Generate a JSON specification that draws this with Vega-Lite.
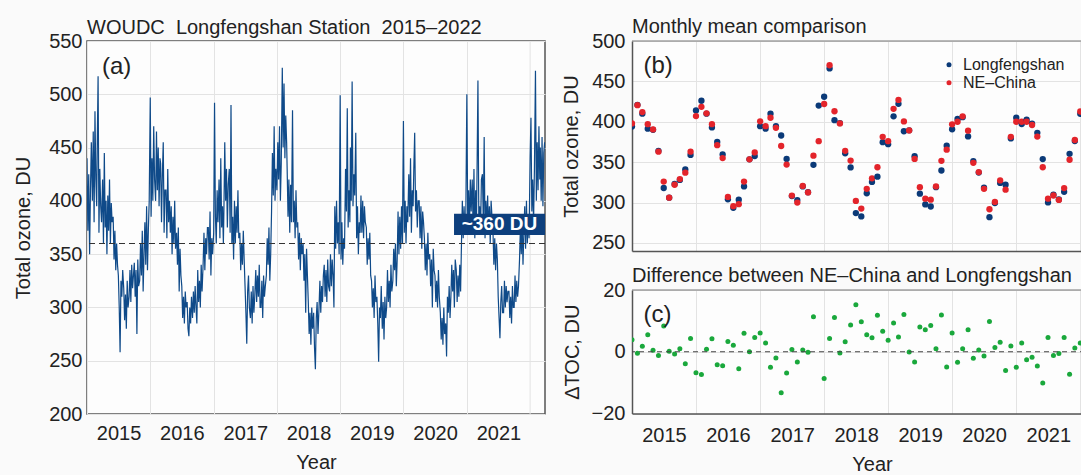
{
"$schema": "https://vega.github.io/schema/vega-lite/v6.json",
"background": "#fafafa",
"padding": {"left": 12, "top": 17, "right": 0, "bottom": 0},
"config": {
 "font": "Liberation Sans",
 "view": {"stroke": null},
 "axis": {"labelFont": "Liberation Sans", "labelFontSize": 20, "labelColor": "#222", "titleFont": "Liberation Sans", "titleFontSize": 20, "titleFontWeight": "normal", "titleColor": "#222", "gridColor": "#e3e3e3", "gridWidth": 1, "domainColor": "#555", "domainWidth": 1.5, "ticks": false, "tickSize": 0},
 "title": {"font": "Liberation Sans", "fontSize": 20, "fontWeight": "normal", "color": "#222", "anchor": "start", "frame": "group", "baseline": "alphabetic"}
},
"datasets": {
"daily": [
{"t":"2015-01-01","v":440},{"t":"2015-01-06","v":372},{"t":"2015-01-11","v":425},{"t":"2015-01-16","v":350},{"t":"2015-01-21","v":410},{"t":"2015-01-26","v":455},
{"t":"2015-02-01","v":400},{"t":"2015-02-06","v":465},{"t":"2015-02-11","v":380},{"t":"2015-02-16","v":484},{"t":"2015-02-21","v":420},{"t":"2015-02-26","v":395},
{"t":"2015-03-01","v":450},{"t":"2015-03-06","v":517},{"t":"2015-03-11","v":370},{"t":"2015-03-16","v":430},{"t":"2015-03-21","v":395},{"t":"2015-03-26","v":380},
{"t":"2015-04-01","v":420},{"t":"2015-04-06","v":360},{"t":"2015-04-11","v":445},{"t":"2015-04-16","v":375},{"t":"2015-04-21","v":400},{"t":"2015-04-26","v":350},
{"t":"2015-05-01","v":405},{"t":"2015-05-06","v":372},{"t":"2015-05-11","v":420},{"t":"2015-05-16","v":360},{"t":"2015-05-21","v":398},{"t":"2015-05-26","v":380},
{"t":"2015-06-01","v":385},{"t":"2015-06-06","v":345},{"t":"2015-06-11","v":372},{"t":"2015-06-16","v":335},{"t":"2015-06-21","v":360},{"t":"2015-06-26","v":340},
{"t":"2015-07-01","v":330},{"t":"2015-07-06","v":300},{"t":"2015-07-11","v":258},{"t":"2015-07-16","v":325},{"t":"2015-07-21","v":310},{"t":"2015-07-26","v":335},
{"t":"2015-08-01","v":318},{"t":"2015-08-06","v":288},{"t":"2015-08-11","v":312},{"t":"2015-08-16","v":280},{"t":"2015-08-21","v":325},{"t":"2015-08-26","v":300},
{"t":"2015-09-01","v":310},{"t":"2015-09-06","v":335},{"t":"2015-09-11","v":305},{"t":"2015-09-16","v":340},{"t":"2015-09-21","v":318},{"t":"2015-09-26","v":330},
{"t":"2015-10-01","v":342},{"t":"2015-10-06","v":310},{"t":"2015-10-11","v":335},{"t":"2015-10-16","v":275},{"t":"2015-10-21","v":345},{"t":"2015-10-26","v":320},
{"t":"2015-11-01","v":325},{"t":"2015-11-06","v":360},{"t":"2015-11-11","v":330},{"t":"2015-11-16","v":372},{"t":"2015-11-21","v":315},{"t":"2015-11-26","v":350},
{"t":"2015-12-01","v":380},{"t":"2015-12-06","v":340},{"t":"2015-12-11","v":395},{"t":"2015-12-16","v":335},{"t":"2015-12-21","v":372},{"t":"2015-12-26","v":400},
{"t":"2016-01-01","v":497},{"t":"2016-01-06","v":385},{"t":"2016-01-11","v":440},{"t":"2016-01-16","v":400},{"t":"2016-01-21","v":470},{"t":"2016-01-26","v":420},
{"t":"2016-02-01","v":400},{"t":"2016-02-06","v":465},{"t":"2016-02-11","v":410},{"t":"2016-02-16","v":450},{"t":"2016-02-21","v":395},{"t":"2016-02-26","v":440},
{"t":"2016-03-01","v":435},{"t":"2016-03-06","v":380},{"t":"2016-03-11","v":425},{"t":"2016-03-16","v":455},{"t":"2016-03-21","v":370},{"t":"2016-03-26","v":410},
{"t":"2016-04-01","v":410},{"t":"2016-04-06","v":365},{"t":"2016-04-11","v":430},{"t":"2016-04-16","v":380},{"t":"2016-04-21","v":400},{"t":"2016-04-26","v":370},
{"t":"2016-05-01","v":395},{"t":"2016-05-06","v":350},{"t":"2016-05-11","v":385},{"t":"2016-05-16","v":360},{"t":"2016-05-21","v":400},{"t":"2016-05-26","v":355},
{"t":"2016-06-01","v":370},{"t":"2016-06-06","v":340},{"t":"2016-06-11","v":375},{"t":"2016-06-16","v":315},{"t":"2016-06-21","v":355},{"t":"2016-06-26","v":330},
{"t":"2016-07-01","v":320},{"t":"2016-07-06","v":290},{"t":"2016-07-11","v":310},{"t":"2016-07-16","v":285},{"t":"2016-07-21","v":315},{"t":"2016-07-26","v":300},
{"t":"2016-08-01","v":305},{"t":"2016-08-06","v":280},{"t":"2016-08-11","v":273},{"t":"2016-08-16","v":300},{"t":"2016-08-21","v":285},{"t":"2016-08-26","v":310},
{"t":"2016-09-01","v":290},{"t":"2016-09-06","v":315},{"t":"2016-09-11","v":295},{"t":"2016-09-16","v":320},{"t":"2016-09-21","v":300},{"t":"2016-09-26","v":285},
{"t":"2016-10-01","v":335},{"t":"2016-10-06","v":305},{"t":"2016-10-11","v":325},{"t":"2016-10-16","v":300},{"t":"2016-10-21","v":340},{"t":"2016-10-26","v":315},
{"t":"2016-11-01","v":340},{"t":"2016-11-06","v":370},{"t":"2016-11-11","v":335},{"t":"2016-11-16","v":365},{"t":"2016-11-21","v":350},{"t":"2016-11-26","v":375},
{"t":"2016-12-01","v":375},{"t":"2016-12-06","v":345},{"t":"2016-12-11","v":390},{"t":"2016-12-16","v":330},{"t":"2016-12-21","v":365},{"t":"2016-12-26","v":350},
{"t":"2017-01-01","v":370},{"t":"2017-01-06","v":492},{"t":"2017-01-11","v":385},{"t":"2017-01-16","v":360},{"t":"2017-01-21","v":410},{"t":"2017-01-26","v":380},
{"t":"2017-02-01","v":420},{"t":"2017-02-06","v":365},{"t":"2017-02-11","v":440},{"t":"2017-02-16","v":375},{"t":"2017-02-21","v":395},{"t":"2017-02-26","v":360},
{"t":"2017-03-01","v":390},{"t":"2017-03-06","v":455},{"t":"2017-03-11","v":400},{"t":"2017-03-16","v":430},{"t":"2017-03-21","v":375},{"t":"2017-03-26","v":415},
{"t":"2017-04-01","v":430},{"t":"2017-04-06","v":370},{"t":"2017-04-11","v":490},{"t":"2017-04-16","v":360},{"t":"2017-04-21","v":385},{"t":"2017-04-26","v":345},
{"t":"2017-05-01","v":400},{"t":"2017-05-06","v":360},{"t":"2017-05-11","v":395},{"t":"2017-05-16","v":370},{"t":"2017-05-21","v":410},{"t":"2017-05-26","v":365},
{"t":"2017-06-01","v":370},{"t":"2017-06-06","v":335},{"t":"2017-06-11","v":360},{"t":"2017-06-16","v":340},{"t":"2017-06-21","v":372},{"t":"2017-06-26","v":345},
{"t":"2017-07-01","v":320},{"t":"2017-07-06","v":295},{"t":"2017-07-11","v":266},{"t":"2017-07-16","v":315},{"t":"2017-07-21","v":330},{"t":"2017-07-26","v":300},
{"t":"2017-08-01","v":290},{"t":"2017-08-06","v":315},{"t":"2017-08-11","v":285},{"t":"2017-08-16","v":320},{"t":"2017-08-21","v":295},{"t":"2017-08-26","v":310},
{"t":"2017-09-01","v":335},{"t":"2017-09-06","v":305},{"t":"2017-09-11","v":330},{"t":"2017-09-16","v":310},{"t":"2017-09-21","v":340},{"t":"2017-09-26","v":300},
{"t":"2017-10-01","v":300},{"t":"2017-10-06","v":325},{"t":"2017-10-11","v":290},{"t":"2017-10-16","v":330},{"t":"2017-10-21","v":310},{"t":"2017-10-26","v":320},
{"t":"2017-11-01","v":330},{"t":"2017-11-06","v":365},{"t":"2017-11-11","v":340},{"t":"2017-11-16","v":375},{"t":"2017-11-21","v":325},{"t":"2017-11-26","v":350},
{"t":"2017-12-01","v":390},{"t":"2017-12-06","v":445},{"t":"2017-12-11","v":405},{"t":"2017-12-16","v":470},{"t":"2017-12-21","v":400},{"t":"2017-12-26","v":430},
{"t":"2018-01-01","v":410},{"t":"2018-01-06","v":455},{"t":"2018-01-11","v":420},{"t":"2018-01-16","v":470},{"t":"2018-01-21","v":400},{"t":"2018-01-26","v":435},
{"t":"2018-02-01","v":525},{"t":"2018-02-06","v":450},{"t":"2018-02-11","v":510},{"t":"2018-02-16","v":440},{"t":"2018-02-21","v":480},{"t":"2018-02-26","v":455},
{"t":"2018-03-01","v":430},{"t":"2018-03-06","v":385},{"t":"2018-03-11","v":420},{"t":"2018-03-16","v":370},{"t":"2018-03-21","v":415},{"t":"2018-03-26","v":380},
{"t":"2018-04-01","v":485},{"t":"2018-04-06","v":380},{"t":"2018-04-11","v":400},{"t":"2018-04-16","v":365},{"t":"2018-04-21","v":410},{"t":"2018-04-26","v":375},
{"t":"2018-05-01","v":380},{"t":"2018-05-06","v":345},{"t":"2018-05-11","v":370},{"t":"2018-05-16","v":335},{"t":"2018-05-21","v":365},{"t":"2018-05-26","v":350},
{"t":"2018-06-01","v":360},{"t":"2018-06-06","v":325},{"t":"2018-06-11","v":350},{"t":"2018-06-16","v":295},{"t":"2018-06-21","v":355},{"t":"2018-06-26","v":330},
{"t":"2018-07-01","v":305},{"t":"2018-07-06","v":275},{"t":"2018-07-11","v":295},{"t":"2018-07-16","v":265},{"t":"2018-07-21","v":300},{"t":"2018-07-26","v":280},
{"t":"2018-08-01","v":295},{"t":"2018-08-06","v":262},{"t":"2018-08-11","v":242},{"t":"2018-08-16","v":290},{"t":"2018-08-21","v":305},{"t":"2018-08-26","v":275},
{"t":"2018-09-01","v":300},{"t":"2018-09-06","v":325},{"t":"2018-09-11","v":295},{"t":"2018-09-16","v":320},{"t":"2018-09-21","v":305},{"t":"2018-09-26","v":330},
{"t":"2018-10-01","v":340},{"t":"2018-10-06","v":310},{"t":"2018-10-11","v":335},{"t":"2018-10-16","v":305},{"t":"2018-10-21","v":345},{"t":"2018-10-26","v":320},
{"t":"2018-11-01","v":315},{"t":"2018-11-06","v":350},{"t":"2018-11-11","v":320},{"t":"2018-11-16","v":345},{"t":"2018-11-21","v":330},{"t":"2018-11-26","v":300},
{"t":"2018-12-01","v":395},{"t":"2018-12-06","v":355},{"t":"2018-12-11","v":400},{"t":"2018-12-16","v":360},{"t":"2018-12-21","v":380},{"t":"2018-12-26","v":350},
{"t":"2019-01-01","v":499},{"t":"2019-01-06","v":345},{"t":"2019-01-11","v":380},{"t":"2019-01-16","v":340},{"t":"2019-01-21","v":365},{"t":"2019-01-26","v":355},
{"t":"2019-02-01","v":430},{"t":"2019-02-06","v":390},{"t":"2019-02-11","v":487},{"t":"2019-02-16","v":375},{"t":"2019-02-21","v":410},{"t":"2019-02-26","v":380},
{"t":"2019-03-01","v":450},{"t":"2019-03-06","v":400},{"t":"2019-03-11","v":512},{"t":"2019-03-16","v":395},{"t":"2019-03-21","v":425},{"t":"2019-03-26","v":405},
{"t":"2019-04-01","v":464},{"t":"2019-04-06","v":365},{"t":"2019-04-11","v":395},{"t":"2019-04-16","v":350},{"t":"2019-04-21","v":380},{"t":"2019-04-26","v":370},
{"t":"2019-05-01","v":405},{"t":"2019-05-06","v":370},{"t":"2019-05-11","v":400},{"t":"2019-05-16","v":365},{"t":"2019-05-21","v":395},{"t":"2019-05-26","v":380},
{"t":"2019-06-01","v":375},{"t":"2019-06-06","v":340},{"t":"2019-06-11","v":365},{"t":"2019-06-16","v":345},{"t":"2019-06-21","v":370},{"t":"2019-06-26","v":330},
{"t":"2019-07-01","v":325},{"t":"2019-07-06","v":300},{"t":"2019-07-11","v":318},{"t":"2019-07-16","v":290},{"t":"2019-07-21","v":330},{"t":"2019-07-26","v":305},
{"t":"2019-08-01","v":310},{"t":"2019-08-06","v":285},{"t":"2019-08-11","v":249},{"t":"2019-08-16","v":300},{"t":"2019-08-21","v":290},{"t":"2019-08-26","v":320},
{"t":"2019-09-01","v":280},{"t":"2019-09-06","v":305},{"t":"2019-09-11","v":270},{"t":"2019-09-16","v":310},{"t":"2019-09-21","v":290},{"t":"2019-09-26","v":300},
{"t":"2019-10-01","v":335},{"t":"2019-10-06","v":305},{"t":"2019-10-11","v":325},{"t":"2019-10-16","v":300},{"t":"2019-10-21","v":340},{"t":"2019-10-26","v":315},
{"t":"2019-11-01","v":325},{"t":"2019-11-06","v":355},{"t":"2019-11-11","v":335},{"t":"2019-11-16","v":360},{"t":"2019-11-21","v":320},{"t":"2019-11-26","v":345},
{"t":"2019-12-01","v":390},{"t":"2019-12-06","v":350},{"t":"2019-12-11","v":385},{"t":"2019-12-16","v":355},{"t":"2019-12-21","v":395},{"t":"2019-12-26","v":360},
{"t":"2020-01-01","v":475},{"t":"2020-01-06","v":370},{"t":"2020-01-11","v":400},{"t":"2020-01-16","v":360},{"t":"2020-01-21","v":395},{"t":"2020-01-26","v":380},
{"t":"2020-02-01","v":425},{"t":"2020-02-06","v":385},{"t":"2020-02-11","v":440},{"t":"2020-02-16","v":370},{"t":"2020-02-21","v":410},{"t":"2020-02-26","v":395},
{"t":"2020-03-01","v":430},{"t":"2020-03-06","v":464},{"t":"2020-03-11","v":390},{"t":"2020-03-16","v":410},{"t":"2020-03-21","v":375},{"t":"2020-03-26","v":400},
{"t":"2020-04-01","v":400},{"t":"2020-04-06","v":365},{"t":"2020-04-11","v":395},{"t":"2020-04-16","v":355},{"t":"2020-04-21","v":390},{"t":"2020-04-26","v":380},
{"t":"2020-05-01","v":365},{"t":"2020-05-06","v":335},{"t":"2020-05-11","v":360},{"t":"2020-05-16","v":330},{"t":"2020-05-21","v":370},{"t":"2020-05-26","v":345},
{"t":"2020-06-01","v":350},{"t":"2020-06-06","v":320},{"t":"2020-06-11","v":345},{"t":"2020-06-16","v":300},{"t":"2020-06-21","v":355},{"t":"2020-06-26","v":335},
{"t":"2020-07-01","v":330},{"t":"2020-07-06","v":305},{"t":"2020-07-11","v":325},{"t":"2020-07-16","v":300},{"t":"2020-07-21","v":335},{"t":"2020-07-26","v":310},
{"t":"2020-08-01","v":295},{"t":"2020-08-06","v":270},{"t":"2020-08-11","v":290},{"t":"2020-08-16","v":265},{"t":"2020-08-21","v":300},{"t":"2020-08-26","v":275},
{"t":"2020-09-01","v":285},{"t":"2020-09-06","v":254},{"t":"2020-09-11","v":310},{"t":"2020-09-16","v":295},{"t":"2020-09-21","v":320},{"t":"2020-09-26","v":290},
{"t":"2020-10-01","v":310},{"t":"2020-10-06","v":340},{"t":"2020-10-11","v":315},{"t":"2020-10-16","v":335},{"t":"2020-10-21","v":300},{"t":"2020-10-26","v":345},
{"t":"2020-11-01","v":335},{"t":"2020-11-06","v":305},{"t":"2020-11-11","v":330},{"t":"2020-11-16","v":310},{"t":"2020-11-21","v":340},{"t":"2020-11-26","v":315},
{"t":"2020-12-01","v":360},{"t":"2020-12-06","v":400},{"t":"2020-12-11","v":365},{"t":"2020-12-16","v":395},{"t":"2020-12-21","v":370},{"t":"2020-12-26","v":385},
{"t":"2021-01-01","v":500},{"t":"2021-01-06","v":380},{"t":"2021-01-11","v":410},{"t":"2021-01-16","v":375},{"t":"2021-01-21","v":420},{"t":"2021-01-26","v":390},
{"t":"2021-02-01","v":420},{"t":"2021-02-06","v":375},{"t":"2021-02-11","v":430},{"t":"2021-02-16","v":365},{"t":"2021-02-21","v":410},{"t":"2021-02-26","v":385},
{"t":"2021-03-01","v":430},{"t":"2021-03-06","v":513},{"t":"2021-03-11","v":385},{"t":"2021-03-16","v":395},{"t":"2021-03-21","v":370},{"t":"2021-03-26","v":420},
{"t":"2021-04-01","v":425},{"t":"2021-04-06","v":380},{"t":"2021-04-11","v":460},{"t":"2021-04-16","v":365},{"t":"2021-04-21","v":400},{"t":"2021-04-26","v":375},
{"t":"2021-05-01","v":405},{"t":"2021-05-06","v":370},{"t":"2021-05-11","v":395},{"t":"2021-05-16","v":360},{"t":"2021-05-21","v":400},{"t":"2021-05-26","v":385},
{"t":"2021-06-01","v":370},{"t":"2021-06-06","v":340},{"t":"2021-06-11","v":365},{"t":"2021-06-16","v":335},{"t":"2021-06-21","v":360},{"t":"2021-06-26","v":345},
{"t":"2021-07-01","v":310},{"t":"2021-07-06","v":290},{"t":"2021-07-11","v":271},{"t":"2021-07-16","v":305},{"t":"2021-07-21","v":320},{"t":"2021-07-26","v":295},
{"t":"2021-08-01","v":295},{"t":"2021-08-06","v":325},{"t":"2021-08-11","v":300},{"t":"2021-08-16","v":320},{"t":"2021-08-21","v":305},{"t":"2021-08-26","v":315},
{"t":"2021-09-01","v":315},{"t":"2021-09-06","v":290},{"t":"2021-09-11","v":310},{"t":"2021-09-16","v":285},{"t":"2021-09-21","v":320},{"t":"2021-09-26","v":300},
{"t":"2021-10-01","v":300},{"t":"2021-10-06","v":330},{"t":"2021-10-11","v":305},{"t":"2021-10-16","v":325},{"t":"2021-10-21","v":310},{"t":"2021-10-26","v":320},
{"t":"2021-11-01","v":345},{"t":"2021-11-06","v":375},{"t":"2021-11-11","v":350},{"t":"2021-11-16","v":380},{"t":"2021-11-21","v":340},{"t":"2021-11-26","v":370},
{"t":"2021-12-01","v":395},{"t":"2021-12-06","v":355},{"t":"2021-12-11","v":400},{"t":"2021-12-16","v":360},{"t":"2021-12-21","v":385},{"t":"2021-12-26","v":365},
{"t":"2022-01-01","v":440},{"t":"2022-01-06","v":478},{"t":"2022-01-11","v":390},{"t":"2022-01-16","v":420},{"t":"2022-01-21","v":380},{"t":"2022-01-26","v":430},
{"t":"2022-02-01","v":522},{"t":"2022-02-06","v":400},{"t":"2022-02-11","v":455},{"t":"2022-02-16","v":410},{"t":"2022-02-21","v":470},{"t":"2022-02-26","v":420},
{"t":"2022-03-01","v":450},{"t":"2022-03-06","v":400},{"t":"2022-03-11","v":460},{"t":"2022-03-16","v":395},{"t":"2022-03-21","v":445},{"t":"2022-03-26","v":455}
],
"monthly": [
{"t":"2015-01-01","Longfengshan":394,"NE–China":398,"d":3.9},
{"t":"2015-02-01","Longfengshan":421,"NE–China":420.5,"d":-0.5},
{"t":"2015-03-01","Longfengshan":410,"NE–China":412,"d":1.8},
{"t":"2015-04-01","Longfengshan":391.5,"NE–China":397,"d":5.5},
{"t":"2015-05-01","Longfengshan":390,"NE–China":390.5,"d":0.5},
{"t":"2015-06-01","Longfengshan":364,"NE–China":363,"d":-1.2},
{"t":"2015-07-01","Longfengshan":318,"NE–China":326,"d":8.3},
{"t":"2015-08-01","Longfengshan":306,"NE–China":306,"d":0.2},
{"t":"2015-09-01","Longfengshan":323,"NE–China":322,"d":-0.7},
{"t":"2015-10-01","Longfengshan":328,"NE–China":329,"d":1.0},
{"t":"2015-11-01","Longfengshan":341,"NE–China":337,"d":-3.9},
{"t":"2015-12-01","Longfengshan":359,"NE–China":363,"d":4.3},
{"t":"2016-01-01","Longfengshan":414,"NE–China":407,"d":-6.8},
{"t":"2016-02-01","Longfengshan":426,"NE–China":418.5,"d":-7.4},
{"t":"2016-03-01","Longfengshan":410,"NE–China":410.5,"d":0.8},
{"t":"2016-04-01","Longfengshan":393,"NE–China":397,"d":4.2},
{"t":"2016-05-01","Longfengshan":375,"NE–China":371,"d":-4.2},
{"t":"2016-06-01","Longfengshan":359.5,"NE–China":355,"d":-4.5},
{"t":"2016-07-01","Longfengshan":304,"NE–China":307,"d":3.3},
{"t":"2016-08-01","Longfengshan":293.5,"NE–China":295.5,"d":2.1},
{"t":"2016-09-01","Longfengshan":303.5,"NE–China":298,"d":-5.5},
{"t":"2016-10-01","Longfengshan":320,"NE–China":326,"d":6.0},
{"t":"2016-11-01","Longfengshan":353.5,"NE–China":353.5,"d":0},
{"t":"2016-12-01","Longfengshan":357.5,"NE–China":362,"d":4.6},
{"t":"2017-01-01","Longfengshan":394.5,"NE–China":400.5,"d":6.1},
{"t":"2017-02-01","Longfengshan":391.5,"NE–China":394.5,"d":2.8},
{"t":"2017-03-01","Longfengshan":410,"NE–China":405,"d":-5.0},
{"t":"2017-04-01","Longfengshan":394.5,"NE–China":392.5,"d":-2.0},
{"t":"2017-05-01","Longfengshan":383,"NE–China":370,"d":-13.3},
{"t":"2017-06-01","Longfengshan":354,"NE–China":347,"d":-6.9},
{"t":"2017-07-01","Longfengshan":308,"NE–China":308.6,"d":0.7},
{"t":"2017-08-01","Longfengshan":303,"NE–China":300,"d":-3.3},
{"t":"2017-09-01","Longfengshan":320,"NE–China":320.6,"d":0.6},
{"t":"2017-10-01","Longfengshan":312.7,"NE–China":312.5,"d":-0.2},
{"t":"2017-11-01","Longfengshan":346.7,"NE–China":358,"d":11.3},
{"t":"2017-12-01","Longfengshan":420,"NE–China":376,"d":null},
{"t":"2018-01-01","Longfengshan":431,"NE–China":422,"d":-8.7},
{"t":"2018-02-01","Longfengshan":466,"NE–China":470,"d":4.3},
{"t":"2018-03-01","Longfengshan":402,"NE–China":413,"d":11.1},
{"t":"2018-04-01","Longfengshan":398.4,"NE–China":398,"d":-0.4},
{"t":"2018-05-01","Longfengshan":361,"NE–China":364,"d":3.2},
{"t":"2018-06-01","Longfengshan":343.5,"NE–China":352,"d":8.7},
{"t":"2018-07-01","Longfengshan":287,"NE–China":302,"d":15.2},
{"t":"2018-08-01","Longfengshan":282.8,"NE–China":292.5,"d":9.7},
{"t":"2018-09-01","Longfengshan":311.5,"NE–China":317,"d":5.5},
{"t":"2018-10-01","Longfengshan":325.5,"NE–China":330,"d":4.5},
{"t":"2018-11-01","Longfengshan":332,"NE–China":343.7,"d":11.8},
{"t":"2018-12-01","Longfengshan":374.7,"NE–China":381.3,"d":6.6},
{"t":"2019-01-01","Longfengshan":372.3,"NE–China":376,"d":3.7},
{"t":"2019-02-01","Longfengshan":406.7,"NE–China":416,"d":9.3},
{"t":"2019-03-01","Longfengshan":422.2,"NE–China":427,"d":4.8},
{"t":"2019-04-01","Longfengshan":388.3,"NE–China":400.4,"d":12.1},
{"t":"2019-05-01","Longfengshan":389.4,"NE–China":389.3,"d":-0.1},
{"t":"2019-06-01","Longfengshan":357.3,"NE–China":354,"d":-3.3},
{"t":"2019-07-01","Longfengshan":311,"NE–China":319,"d":8.0},
{"t":"2019-08-01","Longfengshan":297.7,"NE–China":304.8,"d":7.1},
{"t":"2019-09-01","Longfengshan":295.1,"NE–China":303.6,"d":8.5},
{"t":"2019-10-01","Longfengshan":319,"NE–China":320,"d":1.0},
{"t":"2019-11-01","Longfengshan":339.7,"NE–China":351.6,"d":11.9},
{"t":"2019-12-01","Longfengshan":370.4,"NE–China":365.5,"d":-4.9},
{"t":"2020-01-01","Longfengshan":390.7,"NE–China":396.8,"d":6.1},
{"t":"2020-02-01","Longfengshan":403.4,"NE–China":400,"d":-3.4},
{"t":"2020-03-01","Longfengshan":405.7,"NE–China":406.7,"d":1.0},
{"t":"2020-04-01","Longfengshan":381.9,"NE–China":389,"d":7.1},
{"t":"2020-05-01","Longfengshan":351.3,"NE–China":349.2,"d":-2.1},
{"t":"2020-06-01","Longfengshan":337.1,"NE–China":337.7,"d":0.6},
{"t":"2020-07-01","Longfengshan":318.4,"NE–China":317,"d":-1.4},
{"t":"2020-08-01","Longfengshan":281.9,"NE–China":291.7,"d":9.8},
{"t":"2020-09-01","Longfengshan":299.4,"NE–China":300.8,"d":1.4},
{"t":"2020-10-01","Longfengshan":324.3,"NE–China":327.4,"d":3.1},
{"t":"2020-11-01","Longfengshan":322,"NE–China":315.9,"d":-6.1},
{"t":"2020-12-01","Longfengshan":379.4,"NE–China":381.3,"d":1.9},
{"t":"2021-01-01","Longfengshan":405,"NE–China":400,"d":-5.0},
{"t":"2021-02-01","Longfengshan":397.2,"NE–China":400,"d":2.8},
{"t":"2021-03-01","Longfengshan":402.6,"NE–China":400,"d":-2.6},
{"t":"2021-04-01","Longfengshan":397.8,"NE–China":396,"d":-1.8},
{"t":"2021-05-01","Longfengshan":386.3,"NE–China":381.7,"d":-4.6},
{"t":"2021-06-01","Longfengshan":353.8,"NE–China":343.7,"d":-10.1},
{"t":"2021-07-01","Longfengshan":300.2,"NE–China":304.8,"d":4.6},
{"t":"2021-08-01","Longfengshan":309.9,"NE–China":308.7,"d":-1.2},
{"t":"2021-09-01","Longfengshan":303.8,"NE–China":303.2,"d":-0.6},
{"t":"2021-10-01","Longfengshan":313.3,"NE–China":317.9,"d":4.6},
{"t":"2021-11-01","Longfengshan":360.3,"NE–China":353,"d":-7.3},
{"t":"2021-12-01","Longfengshan":376.2,"NE–China":377.4,"d":1.2},
{"t":"2022-01-01","Longfengshan":409.9,"NE–China":412.7,"d":2.8}
]
},
"spacing": 14,
"hconcat": [
{
 "width": 458, "height": 373,
 "view": {"stroke": "#555", "strokeWidth": 1.5, "fill": "#fdfdfd"},
 "title": {"text": "WOUDC\u00a0 Longfengshan Station\u00a0 2015–2022", "offset": -7},
 "layer": [
  {"data": {"values": [{}]},
   "mark": {"type": "rule", "color": "#e3e3e3", "strokeWidth": 1},
   "encoding": {"x": {"datum": {"year": 2022, "month": 1, "date": 1}, "type": "temporal"}}},
  {"data": {"name": "daily"},
   "mark": {"type": "line", "color": "#0f4a89", "strokeWidth": 1.2, "clip": true},
   "encoding": {
    "x": {"field": "t", "type": "temporal",
      "scale": {"domain": [{"year": 2015, "month": 1, "date": 1}, {"year": 2022, "month": 3, "date": 28}]},
      "axis": {"values": [{"year": 2015, "month": 1, "date": 1}, {"year": 2016, "month": 1, "date": 1}, {"year": 2017, "month": 1, "date": 1}, {"year": 2018, "month": 1, "date": 1}, {"year": 2019, "month": 1, "date": 1}, {"year": 2020, "month": 1, "date": 1}, {"year": 2021, "month": 1, "date": 1}],
        "format": "%Y",
        "labelOffset": 31.6, "labelFlush": false, "labelOverlap": false, "labelPadding": 9,
        "title": "Year", "titlePadding": 9, "grid": true, "domain": false}},
    "y": {"field": "v", "type": "quantitative",
      "scale": {"domain": [200, 550]},
      "axis": {"values": [200, 250, 300, 350, 400, 450, 500, 550], "labelPadding": 5, "title": "Total ozone, DU", "titlePadding": 15, "grid": true, "domain": false}}
   }},
  {"data": {"values": [{}]},
   "mark": {"type": "rule", "color": "#333", "strokeWidth": 1.2, "strokeDash": [6, 4]},
   "encoding": {"y": {"datum": 360}}},
  {"data": {"values": [{}]},
   "mark": {"type": "rect", "color": "#0d3f7d"},
   "encoding": {
    "x": {"datum": {"year": 2020, "month": 10, "date": 19}, "type": "temporal"},
    "x2": {"datum": {"year": 2022, "month": 3, "date": 28}},
    "y": {"datum": 368}, "y2": {"datum": 388}}},
  {"data": {"values": [{}]},
   "mark": {"type": "text", "text": "~360 DU", "color": "#ffffff", "fontWeight": "bold", "fontSize": 19, "align": "center", "baseline": "middle"},
   "encoding": {
    "x": {"datum": {"year": 2021, "month": 7, "date": 8}, "type": "temporal"},
    "y": {"datum": 378}}},
  {"data": {"values": [{}]},
   "mark": {"type": "text", "text": "(a)", "color": "#222", "fontSize": 24, "align": "left", "baseline": "middle"},
   "encoding": {
    "x": {"datum": {"year": 2015, "month": 3, "date": 28}, "type": "temporal"},
    "y": {"datum": 526}}}
 ]
},
{
 "spacing": 13,
 "vconcat": [
  {
   "width": 480, "height": 210,
   "view": {"stroke": null, "fill": "#fdfdfd"},
   "title": {"text": "Monthly mean comparison", "offset": -6},
   "layer": [
    {"data": {"name": "monthly"},
     "transform": [{"fold": ["Longfengshan", "NE–China"], "as": ["series", "toc"]}],
     "mark": {"type": "circle", "size": 40, "opacity": 1, "clip": true},
     "encoding": {
      "x": {"field": "t", "type": "temporal",
        "scale": {"domain": [{"year": 2015, "month": 1, "date": 1}, {"year": 2022, "month": 7, "date": 1}]},
        "axis": {"values": [{"year": 2015, "month": 1, "date": 1}, {"year": 2016, "month": 1, "date": 1}, {"year": 2017, "month": 1, "date": 1}, {"year": 2018, "month": 1, "date": 1}, {"year": 2019, "month": 1, "date": 1}, {"year": 2020, "month": 1, "date": 1}, {"year": 2021, "month": 1, "date": 1}, {"year": 2022, "month": 1, "date": 1}],
          "labels": false, "title": null, "grid": true, "domain": true}},
      "y": {"field": "toc", "type": "quantitative",
        "scale": {"domain": [250, 500]},
        "axis": {"values": [250, 300, 350, 400, 450, 500], "labelPadding": 7, "title": "Total ozone, DU", "titlePadding": 10, "grid": true, "domain": true}},
      "color": {"field": "series", "type": "nominal",
        "scale": {"domain": ["Longfengshan", "NE–China"], "range": ["#0b3a78", "#e3242b"]},
        "legend": {"orient": "none", "legendX": 854, "legendY": 15.7, "title": null, "labelFont": "Liberation Sans", "labelFontSize": 16, "labelColor": "#222", "symbolSize": 25, "symbolType": "circle", "symbolStrokeWidth": 0, "labelOffset": 6, "rowPadding": 2, "padding": 0}}
     }},
    {"data": {"values": [{}]},
     "mark": {"type": "rule", "color": "#777", "strokeWidth": 1.2},
     "encoding": {"y": {"datum": 500}}},
    {"data": {"values": [{}]},
     "mark": {"type": "text", "text": "(b)", "color": "#222", "fontSize": 24, "align": "left", "baseline": "middle"},
     "encoding": {
      "x": {"datum": {"year": 2015, "month": 3, "date": 7}, "type": "temporal"},
      "y": {"datum": 468.5}}}
   ]
  },
  {
   "width": 480, "height": 123.5,
   "view": {"stroke": null, "fill": "#fdfdfd"},
   "title": {"text": "Difference between NE–China and Longfengshan", "offset": -6},
   "layer": [
    {"data": {"name": "monthly"},
     "transform": [{"filter": "isValid(datum.d)"}],
     "mark": {"type": "circle", "size": 25, "color": "#1aa83c", "opacity": 1, "clip": true},
     "encoding": {
      "x": {"field": "t", "type": "temporal",
        "scale": {"domain": [{"year": 2015, "month": 1, "date": 1}, {"year": 2022, "month": 7, "date": 1}]},
        "axis": {"values": [{"year": 2015, "month": 1, "date": 1}, {"year": 2016, "month": 1, "date": 1}, {"year": 2017, "month": 1, "date": 1}, {"year": 2018, "month": 1, "date": 1}, {"year": 2019, "month": 1, "date": 1}, {"year": 2020, "month": 1, "date": 1}, {"year": 2021, "month": 1, "date": 1}, {"year": 2022, "month": 1, "date": 1}],
          "labelExpr": "year(datum.value) >= 2022 ? '' : timeFormat(datum.value, '%Y')",
          "labelOffset": 32, "labelFlush": false, "labelOverlap": false, "labelPadding": 12,
          "title": "Year", "titlePadding": 9, "grid": true, "domain": true}},
      "y": {"field": "d", "type": "quantitative",
        "scale": {"domain": [-20, 20]},
        "axis": {"values": [-20, -10, 0, 10, 20], "labelPadding": 7, "title": "ΔTOC, DU", "titlePadding": 9, "grid": true, "domain": true}}
     }},
    {"data": {"values": [{}]},
     "mark": {"type": "rule", "color": "#444", "strokeWidth": 1, "strokeDash": [5, 4]},
     "encoding": {"y": {"datum": 0}}},
    {"data": {"values": [{}]},
     "mark": {"type": "rule", "color": "#777", "strokeWidth": 1.2},
     "encoding": {"y": {"datum": 20}}},
    {"data": {"values": [{}]},
     "mark": {"type": "text", "text": "(c)", "color": "#222", "fontSize": 24, "align": "left", "baseline": "middle"},
     "encoding": {
      "x": {"datum": {"year": 2015, "month": 3, "date": 7}, "type": "temporal"},
      "y": {"datum": 12}}}
   ]
  }
 ]
}
]
}
